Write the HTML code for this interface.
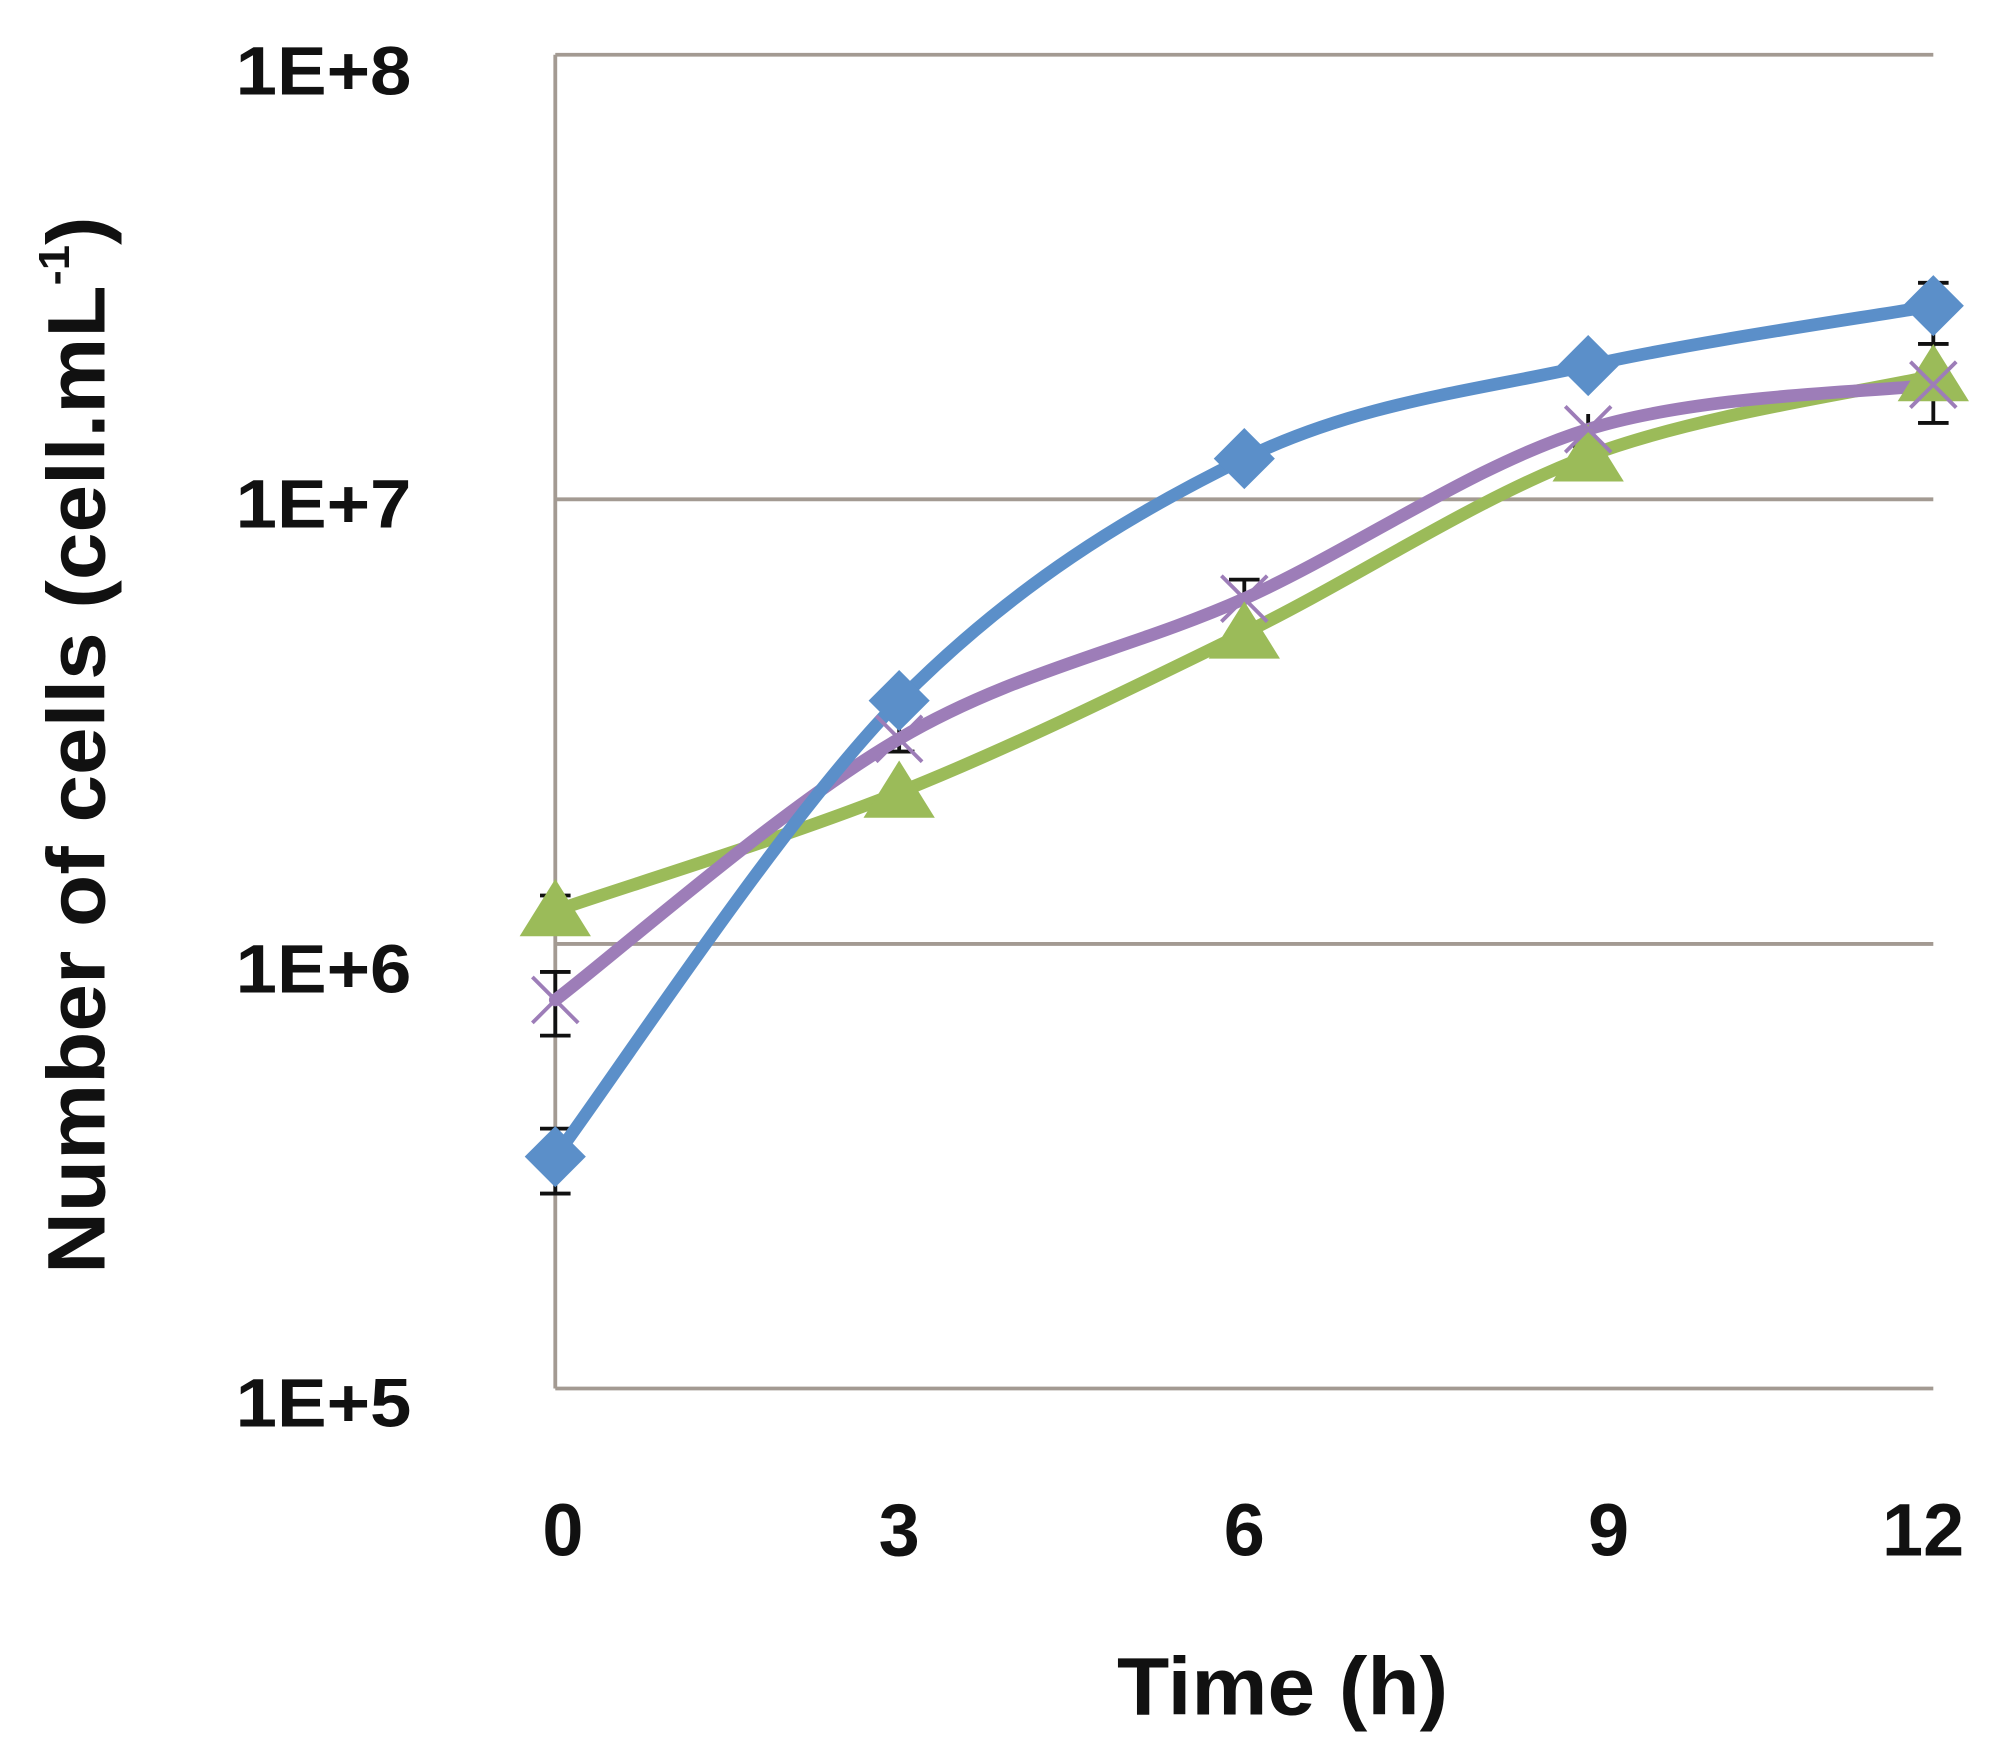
<!DOCTYPE html>
<html><head><meta charset="utf-8"><style>html,body{margin:0;padding:0;background:#fff}svg{display:block}</style></head>
<body>
<svg width="1997" height="1763" viewBox="0 0 1568 1384" preserveAspectRatio="none" xmlns="http://www.w3.org/2000/svg">
<rect width="1568" height="1384" fill="#fff"/>
<g stroke="#a39a92" stroke-width="3">
<line x1="436" y1="43" x2="1518" y2="43"/>
<line x1="436" y1="392" x2="1518" y2="392"/>
<line x1="436" y1="741" x2="1518" y2="741"/>
<line x1="436" y1="1090" x2="1518" y2="1090"/>
<line x1="436" y1="43" x2="436" y2="1090"/>
</g>
<g font-family="Liberation Sans, sans-serif" font-weight="bold" font-size="54" fill="#111">
<text x="185" y="74" textLength="138" lengthAdjust="spacingAndGlyphs">1E+8</text>
<text x="185" y="414" textLength="138" lengthAdjust="spacingAndGlyphs">1E+7</text>
<text x="185" y="779" textLength="138" lengthAdjust="spacingAndGlyphs">1E+6</text>
<text x="185" y="1120" textLength="138" lengthAdjust="spacingAndGlyphs">1E+5</text>
</g>
<g font-family="Liberation Sans, sans-serif" font-weight="bold" font-size="58" fill="#111" text-anchor="middle">
<text x="442" y="1221">0</text>
<text x="706" y="1221">3</text>
<text x="977" y="1221">6</text>
<text x="1263" y="1221">9</text>
<text x="1510" y="1221">12</text>
</g>
<text x="877" y="1346" textLength="260" lengthAdjust="spacingAndGlyphs" font-family="Liberation Sans, sans-serif" font-weight="bold" font-size="64" fill="#111">Time (h)</text>
<text transform="translate(82,1000) rotate(-90)" textLength="830" lengthAdjust="spacingAndGlyphs" font-family="Liberation Sans, sans-serif" font-weight="bold" font-size="64" fill="#111">Number of cells (cell.mL<tspan font-size="34" dy="-28">-1</tspan><tspan dy="28">)</tspan></text>
<g stroke="#111" stroke-width="3">
<path d="M436 886V937M424 886H448M424 937H448"/>
<path d="M436 763V813M424 763H448M424 813H448"/>
<path d="M436 703V728M424 703H448"/>
<path d="M706 540V590M694 540H718M694 590H718"/>
<path d="M977 455V487M965 455H989"/>
<path d="M1247 325V350M1235 350H1259"/>
<path d="M1518 222V332M1506 222H1530M1506 270H1530M1506 332H1530"/>
</g>
<g fill="none" stroke-width="10" stroke-linecap="round">
<path stroke="#9bbb59" d="M436 715C481 699 616 658 706 622C796 586 887 541 977 497C1067 453 1157 392 1247 358C1337 324 1473 306 1518 295"/>
<path stroke="#9d7db8" d="M436 785C481 751 616 632 706 580C796 527 887 510 977 470C1067 429 1157 365 1247 337C1337 309 1473 308 1518 302"/>
<path stroke="#5b8fc9" d="M436 908C481 848 616 641 706 550C796 459 887 404 977 360C1067 316 1157 307 1247 287C1337 267 1473 248 1518 240"/>
</g>
<g fill="#9bbb59">
<polygon points="436,690 464,735 408,735"/>
<polygon points="706,597 734,642 678,642"/>
<polygon points="977,472 1005,517 949,517"/>
<polygon points="1247,333 1275,378 1219,378"/>
<polygon points="1518,270 1546,315 1490,315"/>
</g>
<g stroke="#9d7db8" stroke-width="3">
<path d="M418 767L454 803M454 767L418 803"/>
<path d="M688 562L724 598M724 562L688 598"/>
<path d="M959 452L995 488M995 452L959 488"/>
<path d="M1229 319L1265 355M1265 319L1229 355"/>
<path d="M1500 284L1536 320M1536 284L1500 320"/>
</g>
<g fill="#5b8fc9">
<polygon points="436,884 460,908 436,932 412,908"/>
<polygon points="706,526 730,550 706,574 682,550"/>
<polygon points="977,336 1001,360 977,384 953,360"/>
<polygon points="1247,263 1271,287 1247,311 1223,287"/>
<polygon points="1518,216 1542,240 1518,264 1494,240"/>
</g>
</svg>
</body></html>
